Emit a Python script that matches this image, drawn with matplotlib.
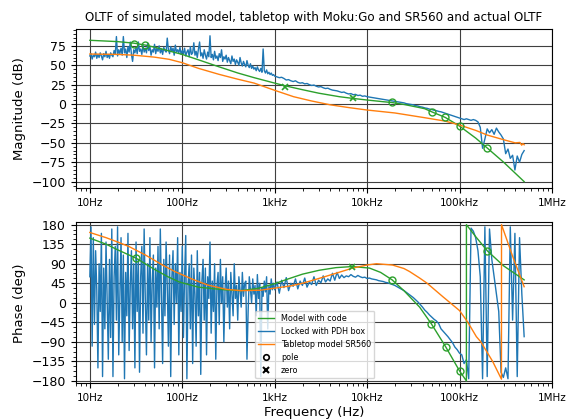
import numpy as np
import matplotlib
matplotlib.use('Agg')
import matplotlib.pyplot as plt
from matplotlib.ticker import EngFormatter, AutoMinorLocator
from matplotlib.lines import Line2D

# ---- measured OLTF (locked with PDH box), read off the plot ----
# 10 Hz -> 1 kHz, 80 pts/decade
mag_lo = [62, 65, 58, 63, 61, 67, 59, 64, 60, 66, 62, 57, 65, 61, 68, 60, 64, 59, 66, 63,
          61, 69, 64, 87, 62, 70, 65, 72, 63, 87, 66, 71, 60, 74, 67, 80, 64, 55, 70, 66,
          73, 65, 80, 68, 71, 64, 76, 67, 72, 66, 78, 69, 74, 63, 70, 67, 77, 65, 72, 68,
          75, 66, 71, 64, 73, 69, 67, 85, 70, 65, 74, 68, 72, 63, 76, 67, 70, 66, 73, 64,
          69, 65, 72, 62, 67, 70, 61, 74, 64, 66, 79, 63, 68, 60, 71, 80, 62, 66, 59, 70,
          63, 58, 67, 61, 88, 60, 64, 57, 68, 59, 62, 56, 65, 60, 70, 55, 61, 58, 63, 54,
          60, 56, 52, 62, 55, 58, 51, 57, 54, 50, 60, 53, 49, 55, 51, 48, 56, 50, 47, 52,
          46, 49, 45, 47, 43, 48, 44, 42, 46, 41, 71, 43, 40, 44, 39, 41, 38, 40, 37, 38, 36]
ph_lo = [60, 175, -100, 150, -50, 120, 30, -150, 90, -20, 160, -170, 80, -60, 140, 10, -130, 100, -80, 170,
         -170, 60, 130, -40, 175, -120, 20, 150, -90, 110, -175, 70, -30, 160, -110, 40, 120, -60, 90, -150,
         140, -20, 100, -160, 60, 130, -70, 170, 10, -120, 90, -40, 150, -90, 50, 110, -150, 80, -10, 130,
         -60, 170, 20, -140, 100, -30, 140, 40, -100, 110, -170, 60, 120, -50, 90, 0, 150, -120, 70, -20,
         130, -80, 60, 155, -175, 40, 90, -60, 110, -140, 80, 20, -100, 120, -30, 70, -165, 50, 100, -40,
         80, -120, 60, 10, 140, -70, 50, -20, 90, -130, 40, 70, -50, 100, 0, 60, -90, 30, 80, -10,
         50, -60, 70, 20, -30, 90, 10, 40, -40, 60, 30, -10, 70, 15, 45, 50, -130, -20, 60, 30,
         0, 55, 20, 40, -30, 65, 10, 45, -170, 35, 15, 50, 25, 60, -60, 40, 20, 55, 30, 45, 30]
# 1 kHz -> 500 kHz, 40 pts/decade
mag_hi = [36, 35, 34, 34.5, 33, 31, 31.5, 30, 29, 30,
          28, 27, 27.5, 26, 26.5, 25, 24, 24.5, 23, 22,
          22.5, 21, 20, 20.5, 19, 18, 17.5, 17, 16, 15,
          15.5, 14, 13, 13.5, 12, 12.5, 11, 11.5, 10, 10.5,
          9.5, 9, 8.5, 8, 7.5, 7, 6.5, 6, 5.5, 5,
          4.5, 4, 3.5, 3, 2.5, 2, 1.5, 0.5, 0, -0.5,
          -1, -2, -2.5, -3.5, -4, -5, -5.5, -6.5, -7, -8,
          -8.5, -9.5, -10, -11, -12, -13, -14, -15, -16, -17,
          -18, -19, -20, -19, -20, -21, -20, -21, -23, -30,
          -57, -45, -32, -37, -33, -39, -31, -36, -40, -45,
          -64, -58, -70, -66, -85, -67, -75, -65, -60]
ph_hi = [30, 48, 22, 52, 35, 58, 28, 45, 38, 55,
         32, 50, 40, 57, 36, 48, 42, 60, 40, 52,
         46, 62, 48, 55, 50, 68, 52, 70, 56, 64,
         58, 62, 60, 65, 61, 59, 63, 60, 58, 59,
         56, 57, 55, 54, 53, 51, 50, 49, 47, 46,
         44, 42, 40, 37, 34, 31, 28, 24, 20, 16,
         12, 7, 2, -4, -10, -17, -22, -28, -33, -38,
         -42, -48, -60, -66, -72, -78, -85, -92, -102, -108,
         -116, -120, -140, -131, -175, 172, 165, 150, 120, 60,
         -175, 175, -170, 170, 100, 60, 20, -20, -160, -172,
         -150, -175, 175, -40, 160, -170, 150, 20, -78]

# ---- model with code ----
f_model_mag = [10, 20, 30, 40, 60, 80, 100, 150, 250, 400, 600, 1000, 1300, 2000, 3000, 5000,
               7000, 1e4, 1.5e4, 1.85e4, 2.5e4, 3.5e4, 4.2e4, 5e4, 7e4, 1e5, 1.5e5, 2e5, 3e5, 5e5]
model_mag = [82.2, 80.5, 78.5, 76, 71, 67, 64, 57, 48, 40, 34, 27, 23.5, 18.5, 14, 9.5,
             7.3, 5.2, 3, 2, -0.5, -4, -6, -10, -17.2, -28.4, -44, -56.8, -75, -100]
f_model_ph = [10, 15, 20, 31.5, 50, 70, 92.7, 150, 285, 430, 655, 1000, 1355, 2000, 3040, 4600,
              6900, 10600, 14000, 18600, 25000, 37000, 49600, 70600, 1e5, 118600, 118700,
              150000, 2e5, 3e5, 5e5]
model_ph = [149, 135, 122, 103, 77, 60, 48, 36, 30, 28, 33, 44, 54, 66, 75, 81,
            83.5, 80, 70, 53, 28, -10, -48.6, -101, -157, -180, 180,
            152, 119.6, 85, 52.8]

# ---- tabletop model SR560 ----
f_tt_mag = [10, 20, 30, 50, 72, 100, 150, 250, 400, 600, 1000, 1600, 2500, 4000, 6300, 1e4,
            2e4, 4.2e4, 7e4, 1e5, 1.5e5, 2e5, 3e5, 4e5, 4.5e5, 4.7e5, 4.85e5, 5e5]
tt_mag = [64.5, 64, 63, 60.5, 57.7, 53.3, 46, 38.3, 32, 27, 17.7, 9.5, 4, -1, -4.5, -7.7,
          -11.5, -17.6, -22, -27, -34, -40, -46, -50, -49.5, -53, -51, -52.5]
f_tt_ph = [10, 15, 20, 26.6, 40, 60, 83, 130, 188, 300, 432, 700, 990, 1500, 2000, 3000,
           4600, 6900, 1e4, 12600, 18800, 25000, 28800, 37000, 44600, 66000, 1e5, 123000,
           152000, 170000, 228000, 284000, 284500, 377000, 5e5]
tt_ph = [162, 150, 140, 129.5, 110, 88, 72, 54, 41, 31, 28, 29, 33.6, 39, 45, 56,
         68, 79.7, 87, 90, 87, 79, 72, 57, 45, 14, -18, -45,
         -78, -90, -135, -176, 180, 106, 37]

# ---- poles / zeros ----
pole_f_mag = [30, 40, 18500, 50000, 70000, 1e5, 2e5]
pole_mag = [78, 75.5, 2.2, -9.9, -17.2, -28.4, -56.8]
zero_f_mag = [1300, 7000]
zero_mag = [22.5, 7.3]
pole_f_ph = [31.5, 18600, 49600, 70600, 1e5, 2e5]
pole_ph = [103, 52.8, -48.6, -101, -157, 119.6]
zero_f_ph = [6900]
zero_ph = [83.5]

f_lo = np.geomspace(10, 1e3, len(mag_lo))
f_hi = np.geomspace(1e3, 5e5, len(mag_hi))
f_meas = np.concatenate([f_lo, f_hi[1:]])
mag_meas = np.array(mag_lo + mag_hi[1:])
f_lo_p = np.geomspace(10, 1e3, len(ph_lo))
f_hi_p = np.geomspace(1e3, 5e5, len(ph_hi))
f_meas_p = np.concatenate([f_lo_p, f_hi_p[1:]])
ph_meas = np.array(ph_lo + ph_hi[1:])

c_model = 'tab:green'
c_meas = 'tab:blue'
c_tt = 'tab:orange'

fig = plt.figure(figsize=(5.67, 4.19), dpi=100)
ax1 = fig.add_axes([0.1332, 0.5506, 0.8403, 0.3797])
ax2 = fig.add_axes([0.1332, 0.0852, 0.8403, 0.3843])

ax1.semilogx(f_meas, mag_meas, color=c_meas, lw=1)
ax1.semilogx(f_model_mag, model_mag, color=c_model, lw=1)
ax1.semilogx(f_tt_mag, tt_mag, color=c_tt, lw=1)
ax1.plot(pole_f_mag, pole_mag, 'o', mfc='none', mec=c_model, ms=5)
ax1.plot(zero_f_mag, zero_mag, 'x', color=c_model, ms=5, mew=1.2)

ax2.semilogx(f_meas_p, ph_meas, color=c_meas, lw=1)
ax2.semilogx(f_model_ph, model_ph, color=c_model, lw=1)
ax2.semilogx(f_tt_ph, tt_ph, color=c_tt, lw=1)
ax2.plot(pole_f_ph, pole_ph, 'o', mfc='none', mec=c_model, ms=5)
ax2.plot(zero_f_ph, zero_ph, 'x', color=c_model, ms=5, mew=1.2)

for ax in (ax1, ax2):
    ax.set_xlim(7, 1e6)
    ax.xaxis.set_major_formatter(EngFormatter(unit='Hz', sep=''))
    ax.yaxis.set_minor_locator(AutoMinorLocator())
    ax.grid(True, which='major', color='0.25', lw=0.8)
    ax.tick_params(axis='x', which='major', labelsize=7.5)
    ax.tick_params(axis='y', which='major', labelsize=9)

ax1.set_ylim(-108.6, 96.5)
ax1.set_yticks(np.arange(-100, 76, 25))
ax1.set_ylabel('Magnitude (dB)', fontsize=9.5)
ax1.set_title('OLTF of simulated model, tabletop with Moku:Go and SR560 and actual OLTF', fontsize=8.6)

ax2.set_ylim(-185.5, 185.5)
ax2.set_yticks(np.arange(-180, 181, 45))
ax2.set_ylabel('Phase (deg)', fontsize=9.5)
ax2.set_xlabel('Frequency (Hz)', fontsize=9.5, labelpad=2.5)

handles = [Line2D([], [], color=c_model, lw=1, label='Model with code'),
           Line2D([], [], color=c_meas, lw=1, label='Locked with PDH box'),
           Line2D([], [], color=c_tt, lw=1, label='Tabletop model SR560'),
           Line2D([], [], ls='none', marker='o', ms=4, mfc='none', mec='k', mew=1.2, label='pole'),
           Line2D([], [], ls='none', marker='x', ms=4, color='k', mew=1.5, label='zero')]
ax2.legend(handles=handles, loc='lower left', bbox_to_anchor=(0.377, 0.031),
           borderaxespad=0, fontsize=5.8)

fig.savefig('out.png', dpi=100)
